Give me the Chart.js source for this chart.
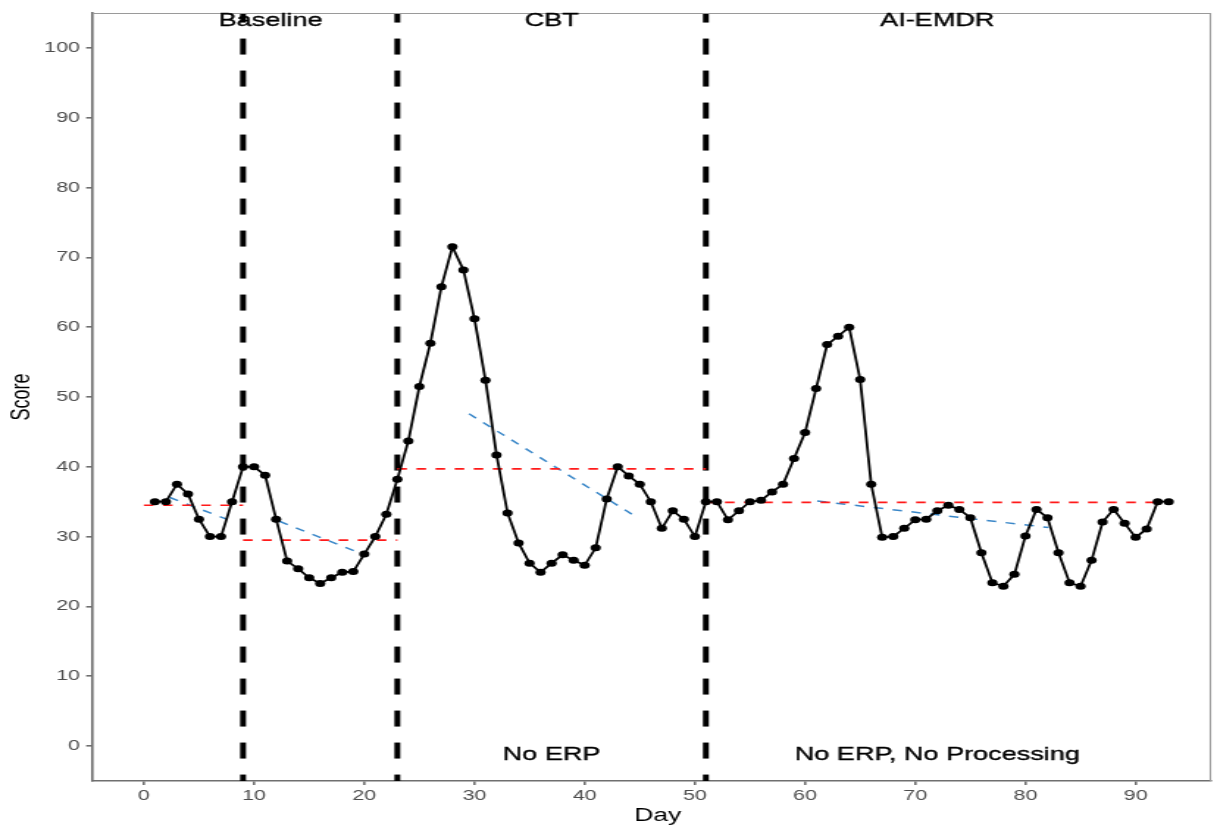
<!DOCTYPE html>
<html>
<head>
<meta charset="utf-8">
<script src="https://cdn.jsdelivr.net/npm/chart.js@4.4.1/dist/chart.umd.min.js"></script>
<style>
  html, body { margin: 0; padding: 0; background: #ffffff; overflow: hidden; }
</style>
</head>
<body>
<!-- The figure is drawn on a square canvas and shown stretched to the page width -->
<canvas id="c" width="828" height="828" style="display:block;width:1217px;height:828px"></canvas>
<script>
// Daily scores
const days = [1, 2, 3, 4, 5, 6, 7, 8, 9, 10, 11, 12, 13, 14, 15, 16, 17, 18, 19, 20,
  21, 22, 23, 24, 25, 26, 27, 28, 29, 30, 31, 32, 33, 34, 35, 36, 37, 38, 39, 40,
  41, 42, 43, 44, 45, 46, 47, 48, 49, 50, 51, 52, 53, 54, 55, 56, 57, 58, 59, 60,
  61, 62, 63, 64, 65, 66, 67, 68, 69, 70, 71, 72, 73, 74, 75, 76, 77, 78, 79, 80,
  81, 82, 83, 84, 85, 86, 87, 88, 89, 90, 91, 92, 93];
const scores = [35, 35, 37.5, 36.1, 32.5, 30, 30, 35, 40, 40, 38.8, 32.5, 26.5, 25.4, 24.1, 23.3, 24.1, 24.9, 25, 27.5,
  30, 33.2, 38.2, 43.7, 51.5, 57.7, 65.8, 71.5, 68.2, 61.2, 52.4, 41.7, 33.4, 29.1, 26.2, 24.9, 26.2, 27.4, 26.6, 25.9,
  28.4, 35.4, 40.0, 38.7, 37.5, 35.0, 31.2, 33.7, 32.5, 30.0, 35.0, 35.0, 32.4, 33.7, 35.0, 35.2, 36.4, 37.5, 41.2, 44.9,
  51.2, 57.5, 58.7, 60.0, 52.5, 37.5, 29.9, 30, 31.2, 32.4, 32.5, 33.7, 34.5, 33.9, 32.7, 27.7, 23.4, 22.9, 24.6, 30.1,
  33.9, 32.7, 27.7, 23.4, 22.9, 26.6, 32.1, 33.9, 31.9, 29.9, 31.1, 35, 35];

// Phase changes and labels
const phaseBreaks = [9, 23, 51];
const phaseNames = ['Baseline', 'CBT', 'AI-EMDR'];
const phaseStart = [0, 23, 51];
const phaseEnd = [23, 51, 93];
const phaseNotes = ['', 'No ERP', 'No ERP, No Processing'];

// Phase means (red) and trends (blue)
const meanStart = [0, 9, 23, 51];
const meanEnd = [9, 23, 51, 93];
const meanLevel = [34.5, 29.5, 39.7, 34.9];
const trendStartX = [2.35, 12.3, 29.5, 61.1];
const trendStartY = [35.6, 32.2, 47.6, 35.1];
const trendEndX = [7.5, 19.5, 44.3, 82.1];
const trendEndY = [32.5, 27.7, 33.2, 31.3];

const xTicks = [0, 10, 20, 30, 40, 50, 60, 70, 80, 90];
const yTicks = [0, 10, 20, 30, 40, 50, 60, 70, 80, 90, 100];

const FONT = '"Liberation Sans", Arial, Helvetica, sans-serif';
const AXIS_GREY = '#6f6f6f';

const datasets = [];
datasets.push({
  data: days.map((d, i) => ({ x: d, y: scores[i] })),
  showLine: true,
  borderColor: '#000000',
  backgroundColor: '#000000',
  borderWidth: 1.8,
  pointRadius: 3.5,
  pointBorderWidth: 0,
  order: 0
});
meanLevel.forEach((v, i) => {
  datasets.push({
    data: [{ x: meanStart[i], y: v }, { x: meanEnd[i], y: v }],
    showLine: true, borderColor: '#ff1a1a', borderWidth: 1.6,
    borderDash: [6.5, 6.5], pointRadius: 0, order: 1
  });
});
trendStartX.forEach((x0, i) => {
  datasets.push({
    data: [{ x: x0, y: trendStartY[i] }, { x: trendEndX[i], y: trendEndY[i] }],
    showLine: true, borderColor: '#3a87c8', borderWidth: 1.5,
    borderDash: [6.5, 6.5], pointRadius: 0, order: 1
  });
});
phaseBreaks.forEach(b => {
  datasets.push({
    data: [{ x: b, y: 105 }, { x: b, y: -5 }],
    showLine: true, borderColor: '#000000', borderWidth: 4,
    borderDash: [16, 16], borderDashOffset: 6.4, borderCapStyle: 'butt',
    pointRadius: 0, order: 2
  });
});

// Top/right frame, x-axis title and phase annotations
const decorations = {
  id: 'decorations',
  afterDatasetsDraw(chart) {
    const { ctx, chartArea: a, scales: { x, y } } = chart;
    ctx.save();
    ctx.strokeStyle = '#9a9a9a';
    ctx.lineWidth = 1.1;
    ctx.beginPath();
    ctx.moveTo(a.left, a.top + 0.5);
    ctx.lineTo(a.right - 0.5, a.top + 0.5);
    ctx.lineTo(a.right - 0.5, a.bottom);
    ctx.stroke();

    ctx.fillStyle = '#000000';
    ctx.strokeStyle = '#000000';
    ctx.lineWidth = 0.35;
    ctx.font = '18.4px ' + FONT;
    ctx.textAlign = 'center';
    ctx.textBaseline = 'middle';
    phaseNames.forEach((name, i) => {
      const cx = x.getPixelForValue((phaseStart[i] + phaseEnd[i]) / 2);
      const ty = y.getPixelForValue(103.8);
      ctx.fillText(name, cx, ty);
      ctx.strokeText(name, cx, ty);
      if (phaseNotes[i]) {
        const by = y.getPixelForValue(-1.3);
        ctx.fillText(phaseNotes[i], cx, by);
        ctx.strokeText(phaseNotes[i], cx, by);
      }
    });

    ctx.font = '18px ' + FONT;
    ctx.fillText('Day', 447.5, 816);
    ctx.restore();
  }
};

new Chart(document.getElementById('c'), {
  type: 'scatter',
  data: { datasets },
  plugins: [decorations],
  options: {
    responsive: false,
    devicePixelRatio: 1,
    animation: false,
    events: [],
    layout: { padding: { top: 12, right: 1.5, left: 0, bottom: 0 } },
    plugins: { legend: { display: false }, tooltip: { enabled: false } },
    scales: {
      x: {
        type: 'linear', min: -4.64, max: 96.85,
        afterBuildTicks: s => { s.ticks = xTicks.map(v => ({ value: v })); },
        afterFit: s => { s.height = 47; },
        grid: { drawOnChartArea: false, drawTicks: true, tickLength: 4, color: AXIS_GREY, lineWidth: 1.6 },
        border: { display: true, color: AXIS_GREY, width: 1.6 },
        ticks: { color: '#4d4d4d', font: { family: FONT, size: 14.6 }, padding: 2, maxRotation: 0, autoSkip: false },
        title: { display: false }
      },
      y: {
        type: 'linear', min: -5, max: 105,
        afterBuildTicks: s => { s.ticks = yTicks.map(v => ({ value: v })); },
        afterFit: s => { s.width = 63.1; },
        grid: { drawOnChartArea: false, drawTicks: true, tickLength: 4.5, color: AXIS_GREY, lineWidth: 1.6 },
        border: { display: true, color: AXIS_GREY, width: 1.6 },
        ticks: { color: '#4d4d4d', font: { family: FONT, size: 14.6 }, padding: 4.2, autoSkip: false },
        title: { display: true, text: 'Score', color: '#000000', font: { family: FONT, size: 18 }, padding: { top: 4, bottom: 0 } }
      }
    }
  }
});
</script>
</body>
</html>
